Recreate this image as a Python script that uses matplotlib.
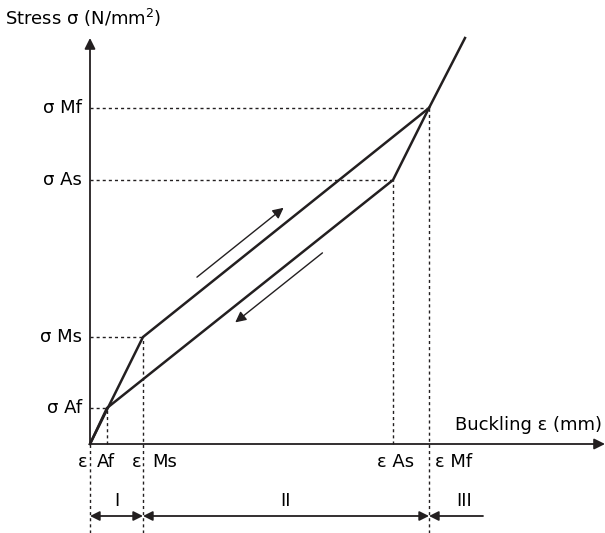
import numpy as np
import matplotlib.pyplot as plt

plt.rcParams['font.family'] = ['DejaVu Sans']
plt.rcParams['mathtext.fontset'] = 'dejavusans'

# transformation points (strain, stress)
phases = ['Af', 'Ms', 'As', 'Mf']
strain = [17, 53, 303, 339]
stress = [36, 107, 264, 336]
# end of the elastic line beyond Mf
strain_end = 375
stress_end = 406

eps = dict(zip(phases, strain))
sig = dict(zip(phases, stress))

regions = ['I', 'II', 'III']
region_edges = [0, eps['Ms'], eps['Mf'], 393]

fig = plt.figure(figsize=(6.05, 5.33), dpi=100)
ax = fig.add_axes([0, 0, 1, 1])
ax.set_xlim(-90, 515)
ax.set_ylim(-89, 444)
ax.axis('off')

LW = 1.8
k = '#231f20'

# axes with arrow heads
axprops = dict(arrowstyle='-|>', lw=1.3, color=k, shrinkA=0, shrinkB=0, mutation_scale=16)
ax.annotate('', xy=(515, 0), xytext=(0, 0), arrowprops=axprops)
ax.annotate('', xy=(0, 406), xytext=(0, 0), arrowprops=axprops)

# loading branch
ax.plot([0, eps['Ms'], eps['Mf'], strain_end], [0, sig['Ms'], sig['Mf'], stress_end],
        color=k, lw=LW, solid_joinstyle='miter')
# unloading branch
ax.plot([eps['Mf'], eps['As'], eps['Af'], 0], [sig['Mf'], sig['As'], sig['Af'], 0],
        color=k, lw=LW, solid_joinstyle='miter')

# guide lines
dot = dict(color=k, lw=1.0, ls=(0, (2.2, 2.2)))
for p in phases:
    ax.plot([0, eps[p]], [sig[p], sig[p]], **dot)
    low = -89 if p in ('Ms', 'Mf') else 0
    ax.plot([eps[p], eps[p]], [low, sig[p]], **dot)
ax.plot([0, 0], [-89, 0], **dot)

fs = 13
for p in phases:
    ax.text(-8, sig[p], 'σ ' + p, ha='right', va='center', fontsize=fs)

# strain labels
ax.text(-12, -18, 'ε', ha='left', va='center', fontsize=fs)
ax.text(7, -18, 'Af', ha='left', va='center', fontsize=fs)
ax.text(42, -18, 'ε', ha='left', va='center', fontsize=fs)
ax.text(62, -18, 'Ms', ha='left', va='center', fontsize=fs)
ax.text(287, -18, 'ε As', ha='left', va='center', fontsize=fs)
ax.text(345, -18, 'ε Mf', ha='left', va='center', fontsize=fs)

ax.text(-85, 426, r'Stress σ (N/mm$^2$)', ha='left', va='center', fontsize=fs)
ax.text(512, 19, 'Buckling ε (mm)', ha='right', va='center', fontsize=fs)

# region spans
rprops = dict(arrowstyle='<|-|>', lw=1.3, color=k, shrinkA=0, shrinkB=0, mutation_scale=14)
for i, r in enumerate(regions):
    x0, x1 = region_edges[i], region_edges[i + 1]
    if r == 'III':
        ax.annotate('', xy=(x0, -72), xytext=(x1, -72),
                    arrowprops=dict(arrowstyle='-|>', lw=1.3, color=k, shrinkA=0,
                                    shrinkB=0, mutation_scale=14))
        ax.text(x0 + 35, -57, r, ha='center', va='center', fontsize=fs)
    else:
        ax.annotate('', xy=(x0, -72), xytext=(x1, -72), arrowprops=rprops)
        ax.text((x0 + x1) / 2, -57, r, ha='center', va='center', fontsize=fs)


# direction arrows beside the plateau branches
def side_arrow(p0, p1, t0, t1, off):
    d = np.array(p1, float) - np.array(p0, float)
    n = np.array([-d[1], d[0]]) / np.hypot(*d)
    a = np.array(p0) + t0 * d + off * n
    b = np.array(p0) + t1 * d + off * n
    ax.annotate('', xy=b, xytext=a,
                arrowprops=dict(arrowstyle='-|>', lw=1.0, color=k, shrinkA=0,
                                shrinkB=0, mutation_scale=16))


side_arrow((eps['Ms'], sig['Ms']), (eps['Mf'], sig['Mf']), 0.217, 0.52, 13)
side_arrow((eps['Af'], sig['Af']), (eps['As'], sig['As']), 0.725, 0.42, -13)

fig.savefig('out.png', dpi=100)
